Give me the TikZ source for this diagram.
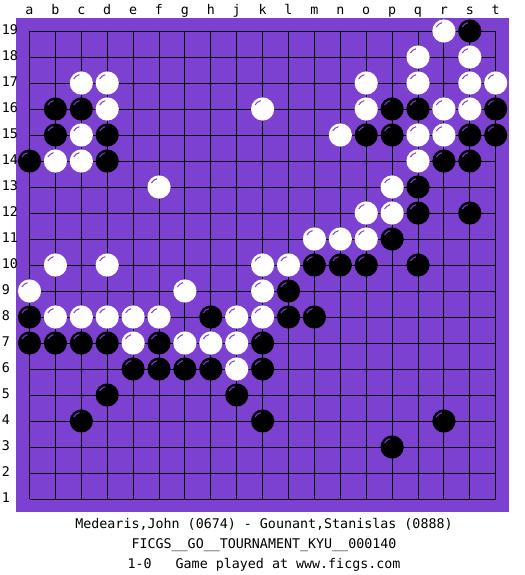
\documentclass[tikz,border=0pt]{standalone}
\usepackage{fontspec}
\setmonofont{DejaVu Sans Mono}
\definecolor{board}{RGB}{125,65,210}
\begin{document}
\begin{tikzpicture}[x=0.75pt,y=-0.75pt,
  lab/.style={font=\ttfamily\fontsize{10}{12}\selectfont, inner sep=0pt},
  gridline/.style={black, line width=0.75pt},
  bstone/.pic={\fill[black] (0,0) circle (8.7pt);
               \draw[board, line width=0.75pt] (152:6.4pt) arc (152:103:6.4pt);},
  wstone/.pic={\fill[white] (0,0) circle (8.7pt);
               \draw[board, line width=0.75pt] (152:6.4pt) arc (152:103:6.4pt);}]
\useasboundingbox (0,0) rectangle (525,575);
\fill[white] (0,0) rectangle (525,575);
\fill[board] (16,18) rectangle (509,512);
% grid
\foreach \i in {1,...,19} {
  \draw[gridline] ({29.5+25.9*(\i-1)},31) -- ({29.5+25.9*(\i-1)},499);
  \draw[gridline] (29.5,{31+26*(\i-1)}) -- ({29.5+25.9*18},{31+26*(\i-1)});
}
% column labels
\foreach \l [count=\i] in {a,b,c,d,e,f,g,h,j,k,l,m,n,o,p,q,r,s,t}
  \node[lab, anchor=base] (col\i) at ({29.5+25.9*(\i-1)},14.3) {\l};
% row labels
\foreach \r in {1,...,19}
  \node[lab, anchor=base west] (row\r) at (1.5,{31+26*(19-\r)+3.8}) {\r};
% black stones
\foreach \c/\r in {18/19,
  2/16,3/16,15/16,16/16,19/16,
  2/15,4/15,14/15,15/15,18/15,19/15,
  1/14,4/14,17/14,18/14,
  16/13, 16/12,18/12, 15/11,
  12/10,13/10,14/10,16/10,
  11/9,
  1/8,8/8,11/8,12/8,
  1/7,2/7,3/7,4/7,6/7,10/7,
  5/6,6/6,7/6,8/6,10/6,
  4/5,9/5,
  3/4,10/4,17/4,
  15/3}
  \pic at ({29.5+25.9*(\c-1)},{31+26*(19-\r)}) {bstone};
% white stones
\foreach \c/\r in {17/19,
  16/18,18/18,
  3/17,4/17,14/17,16/17,18/17,19/17,
  4/16,10/16,14/16,17/16,18/16,
  3/15,13/15,16/15,17/15,
  2/14,3/14,16/14,
  6/13,15/13,
  14/12,15/12,
  12/11,13/11,14/11,
  2/10,4/10,10/10,11/10,
  1/9,7/9,10/9,
  2/8,3/8,4/8,5/8,6/8,9/8,10/8,
  5/7,7/7,8/7,9/7,
  9/6}
  \pic at ({29.5+25.9*(\c-1)},{31+26*(19-\r)}) {wstone};
% caption
\node[lab, anchor=base] (players) at (264,528.5) {Medearis,John (0674) - Gounant,Stanislas (0888)};
\node[lab, anchor=base] (event) at (264,548.8) {FICGS\_\_GO\_\_TOURNAMENT\_KYU\_\_000140};
\node[lab, anchor=base] (result) at (264,568.8) {1-0\ \ \ Game played at www.ficgs.com};
\end{tikzpicture}
\end{document}
